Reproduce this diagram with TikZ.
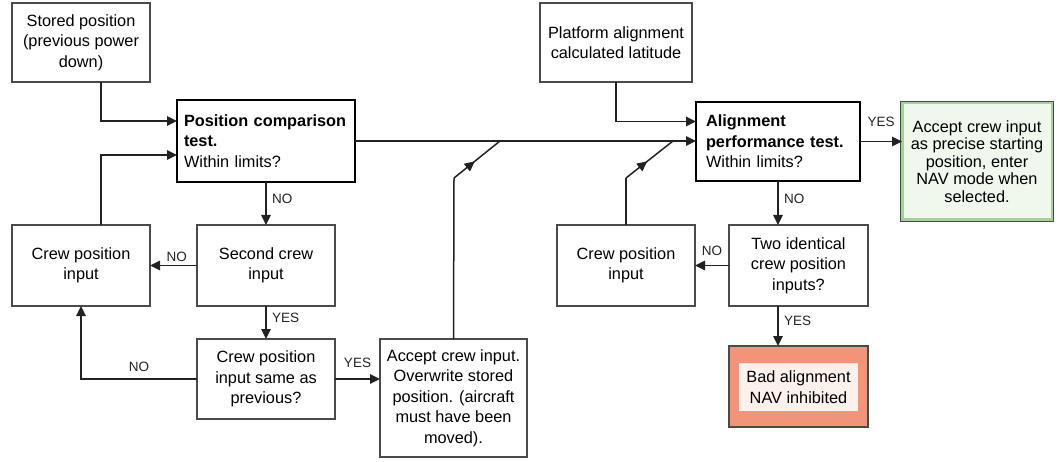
\documentclass[tikz,border=0pt]{standalone}
\usepackage{fontspec}
\setmainfont{Liberation Sans}
\usetikzlibrary{arrows.meta,decorations.markings}
\definecolor{ink}{HTML}{222222}
\definecolor{frame}{HTML}{4A4A4A}
\definecolor{okfill}{HTML}{F0F7EC}
\definecolor{okline}{HTML}{A3D397}
\definecolor{badfill}{HTML}{F39478}
\definecolor{badinner}{HTML}{FDF1EC}
\begin{document}
\begin{tikzpicture}[x=1pt,y=-1pt,
  every node/.style={outer sep=0pt, inner sep=0pt},
  body/.style={font=\fontsize{16.3}{20.5}\selectfont},
  box/.style={body, draw=frame, line width=1.3pt, fill=white, align=center},
  testbox/.style={body, draw=black, line width=2.8pt, fill=white, align=left},
  flow/.style={draw=ink, color=ink, line width=1.5pt},
  arr/.style={flow, -{Triangle[length=10pt,width=9.5pt]}},
  lbl/.style={font=\fontsize{13.5}{16}\selectfont, text=ink},
  midarrow/.style={flow, postaction={decorate},
    decoration={markings, mark=at position 0.45 with {\arrow{Triangle[length=10pt,width=9.5pt]}}}}
]
\useasboundingbox (0,0) rectangle (1059,462);

% ---- left branch: position comparison ----
\node[box, minimum width=138pt, minimum height=79pt] (stored) at (81,42.5)
  {Stored position\\(previous power\\down)};
\node[testbox, minimum width=178pt, minimum height=82pt, text width=164pt] (poscomp) at (266,141)
  {\textbf{Position comparison}\\\textbf{test.}\\Within limits?};
\node[box, minimum width=138pt, minimum height=81pt] (crewL) at (81,265.5)
  {Crew position\\input};
\node[box, minimum width=138pt, minimum height=81pt] (second) at (266,265.5)
  {Second crew\\input};
\node[box, minimum width=138pt, minimum height=80pt] (same) at (266,379)
  {Crew position\\input same as\\previous?};
\node[box, minimum width=147pt, minimum height=118pt] (accept) at (453.5,398)
  {Accept crew input.\\Overwrite stored\\position. (aircraft\\must have been\\moved).};

% ---- right branch: alignment performance ----
\node[box, minimum width=152pt, minimum height=79pt] (platform) at (616,42.5)
  {Platform alignment\\calculated latitude};
\node[testbox, minimum width=164pt, minimum height=79pt, text width=144pt] (align) at (778,141.5)
  {\textbf{Alignment}\\\textbf{performance test.}\\Within limits?};
\node[box, draw=okline, line width=3pt, fill=okfill, font=\fontsize{16.3}{17.5}\selectfont,
  minimum width=150pt, minimum height=117pt] (done) at (977,161.5)
  {Accept crew input\\as precise starting\\position, enter\\NAV mode when\\selected.};
\draw[frame, line width=1pt] ([shift={(-1.6pt,1.6pt)}]done.north west) rectangle ([shift={(1.6pt,-1.6pt)}]done.south east);
\node[box, minimum width=138pt, minimum height=81pt] (crewR) at (626,265.5)
  {Crew position\\input};
\node[box, minimum width=139pt, minimum height=81pt] (two) at (798.5,265.5)
  {Two identical\\crew position\\inputs?};
\node[box, fill=badfill, minimum width=139pt, minimum height=81pt] (bad) at (798.5,386.5) {};
\node[body, fill=badinner, minimum width=119pt, minimum height=48pt, align=center] (badtext) at (798.5,387)
  {Bad alignment\\NAV inhibited};

% switch points on the main line
\coordinate (kinkL) at (454,178);
\coordinate (tapL) at (500,141);
\coordinate (kinkR) at (626,178);
\coordinate (tapR) at (673,141);

% ---- connectors ----
\draw[arr] ([xshift=20pt]stored.south) |- ([yshift=20pt]poscomp.west);
\draw[arr] ([xshift=20pt]crewL.north) |- ([yshift=-14pt]poscomp.west);
\draw[arr] (poscomp.south) -- node[lbl, right=6pt, pos=0.4]{NO} (second.north);
\draw[arr] (second.west) -- node[lbl, above=4pt, pos=0.43]{NO} (crewL.east);
\draw[arr] (second.south) -- node[lbl, right=6pt, pos=0.35]{YES} (same.north);
\draw[arr] (same.west) -| node[lbl, above=7pt, pos=0.25]{NO} (crewL.south);
\draw[arr] (same.east) -- node[lbl, above=11pt]{YES} (same.east -| accept.west);
\draw[flow] (accept.north) -- (kinkL);
\draw[midarrow] (kinkL) -- (tapL);
\draw[arr] (poscomp.east) -- (poscomp.east -| align.west);
\draw[arr] (platform.south) |- ([yshift=20pt]align.west);
\draw[flow] (crewR.north) -- (kinkR);
\draw[midarrow] (kinkR) -- (tapR);
\draw[arr] (align.east) -- node[lbl, above=15pt]{YES} (align.east -| done.west);
\draw[arr] (align.south) -- node[lbl, right=6pt, pos=0.4]{NO} (align.south |- two.north);
\draw[arr] (two.west) -- node[lbl, above=10pt, pos=0.5]{NO} (crewR.east);
\draw[arr] (align.south |- two.south) -- node[lbl, right=6pt, pos=0.38]{YES} (align.south |- bad.north);
\end{tikzpicture}
\end{document}
